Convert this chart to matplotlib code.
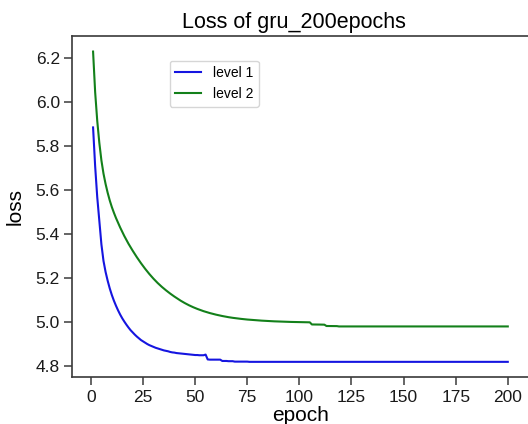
import matplotlib as mpl
import matplotlib.pyplot as plt

# loss per epoch
epochs = list(range(1, 201))

level1 = [
    5.885, 5.708, 5.568, 5.458, 5.353, 5.278, 5.228, 5.188, 5.153, 5.123,
    5.097, 5.074, 5.053, 5.034, 5.017, 5.002, 4.988, 4.975, 4.963, 4.953,
    4.943, 4.934, 4.926, 4.918, 4.912, 4.906, 4.900, 4.895, 4.891, 4.887,
    4.883, 4.880, 4.877, 4.874, 4.871, 4.869, 4.867, 4.864, 4.862, 4.861,
    4.859, 4.858, 4.857, 4.856, 4.855, 4.854, 4.853, 4.852, 4.851, 4.850,
    4.850, 4.849, 4.849, 4.849, 4.852, 4.830, 4.829, 4.829, 4.829, 4.829,
    4.829, 4.829, 4.823, 4.823, 4.823, 4.822, 4.822, 4.822, 4.820, 4.820,
    4.820, 4.820, 4.820, 4.820, 4.820, 4.819, 4.819, 4.819, 4.819, 4.819,
    4.819, 4.819, 4.819, 4.819, 4.819, 4.819, 4.819, 4.819, 4.819, 4.819,
    4.819, 4.819, 4.819, 4.819, 4.819, 4.819, 4.819, 4.819, 4.819, 4.819,
    4.819, 4.819, 4.819, 4.819, 4.819, 4.819, 4.819, 4.819, 4.819, 4.819,
    4.819, 4.819, 4.819, 4.819, 4.819, 4.819, 4.819, 4.819, 4.819, 4.819,
    4.819, 4.819, 4.819, 4.819, 4.819, 4.819, 4.819, 4.819, 4.819, 4.819,
    4.819, 4.819, 4.819, 4.819, 4.819, 4.819, 4.819, 4.819, 4.819, 4.819,
    4.819, 4.819, 4.819, 4.819, 4.819, 4.819, 4.819, 4.819, 4.819, 4.819,
    4.819, 4.819, 4.819, 4.819, 4.819, 4.819, 4.819, 4.819, 4.819, 4.819,
    4.819, 4.819, 4.819, 4.819, 4.819, 4.819, 4.819, 4.819, 4.819, 4.819,
    4.819, 4.819, 4.819, 4.819, 4.819, 4.819, 4.819, 4.819, 4.819, 4.819,
    4.819, 4.819, 4.819, 4.819, 4.819, 4.819, 4.819, 4.819, 4.819, 4.819,
    4.819, 4.819, 4.819, 4.819, 4.819, 4.819, 4.819, 4.819, 4.819, 4.819,
]

level2 = [
    6.230, 6.045, 5.915, 5.815, 5.735, 5.675, 5.628, 5.588, 5.553, 5.523,
    5.497, 5.473, 5.451, 5.430, 5.410, 5.391, 5.373, 5.356, 5.340, 5.3245,
    5.3095, 5.295, 5.281, 5.2675, 5.2545, 5.242, 5.230, 5.2185, 5.2075, 5.197,
    5.187, 5.1775, 5.1685, 5.160, 5.152, 5.1442, 5.1367, 5.1295, 5.1226, 5.1160,
    5.1097, 5.1033, 5.0973, 5.0916, 5.0863, 5.0812, 5.0764, 5.0719, 5.0676, 5.0636,
    5.0598, 5.0562, 5.0528, 5.0495, 5.0465, 5.0436, 5.0409, 5.0383, 5.0359, 5.0336,
    5.0314, 5.0293, 5.0274, 5.0255, 5.0238, 5.0221, 5.0205, 5.0192, 5.0179, 5.0166,
    5.0155, 5.0144, 5.0133, 5.0124, 5.0114, 5.0106, 5.0097, 5.0090, 5.0082, 5.0075,
    5.0069, 5.0063, 5.0057, 5.0051, 5.0046, 5.0041, 5.0037, 5.0032, 5.0028, 5.0024,
    5.0021, 5.0017, 5.0014, 5.0011, 5.0008, 5.0005, 5.0003, 5.0000, 4.9998, 4.9996,
    4.9994, 4.9992, 4.9990, 4.9988, 4.9987, 4.9890, 4.9890, 4.9890, 4.9885, 4.9885,
    4.9880, 4.9880, 4.9820, 4.9820, 4.9820, 4.9820, 4.9820, 4.9815, 4.9800, 4.9800,
    4.980, 4.980, 4.980, 4.980, 4.980, 4.980, 4.980, 4.980, 4.980, 4.980,
    4.980, 4.980, 4.980, 4.980, 4.980, 4.980, 4.980, 4.980, 4.980, 4.980,
    4.980, 4.980, 4.980, 4.980, 4.980, 4.980, 4.980, 4.980, 4.980, 4.980,
    4.980, 4.980, 4.980, 4.980, 4.980, 4.980, 4.980, 4.980, 4.980, 4.980,
    4.980, 4.980, 4.980, 4.980, 4.980, 4.980, 4.980, 4.980, 4.980, 4.980,
    4.980, 4.980, 4.980, 4.980, 4.980, 4.980, 4.980, 4.980, 4.980, 4.980,
    4.980, 4.980, 4.980, 4.980, 4.980, 4.980, 4.980, 4.980, 4.980, 4.980,
    4.980, 4.980, 4.980, 4.980, 4.980, 4.980, 4.980, 4.980, 4.980, 4.980,
]

if __name__ == '__main__':
    mpl.rc('font', family=['Liberation Sans', 'DejaVu Sans'])
    plt.rcParams['xtick.labelsize'] = 12.5
    plt.rcParams['ytick.labelsize'] = 12.5
    plt.rcParams['axes.edgecolor'] = '#3a3a3a'
    plt.rcParams['xtick.color'] = '#3a3a3a'
    plt.rcParams['ytick.color'] = '#3a3a3a'
    plt.rcParams['xtick.labelcolor'] = '#1a1a1a'
    plt.rcParams['ytick.labelcolor'] = '#1a1a1a'

    fig = plt.figure(figsize=(5.28, 4.24), dpi=100)
    # right spine sits just outside the picture, as in the reference
    ax = fig.add_axes([0.137, 0.110, 0.864, 0.805])
    ax.plot(epochs, level1, color='#1515e0', lw=1.5, label='level 1')
    ax.plot(epochs, level2, color='#13801a', lw=1.5, label='level 2')

    ax.set_title('Loss of gru_200epochs', fontsize=15.5, pad=6, x=0.485)
    ax.set_xlabel('epoch', fontsize=15, labelpad=1)
    ax.set_ylabel('loss', fontsize=15, labelpad=8)
    ax.set_xticks([0, 25, 50, 75, 100, 125, 150, 175, 200])
    ax.set_yticks([4.8, 5.0, 5.2, 5.4, 5.6, 5.8, 6.0, 6.2])
    ax.tick_params(direction='out', length=5.5, width=1.1)
    for s in ax.spines.values():
        s.set_linewidth(1.2)
    ax.legend(loc='upper left', bbox_to_anchor=(0.213, 0.928),
              borderaxespad=0, fontsize=10, handlelength=1.9)

    plt.savefig('out.png')
    plt.close()
